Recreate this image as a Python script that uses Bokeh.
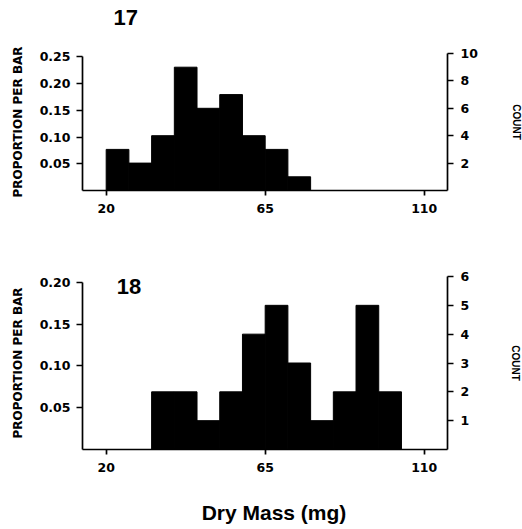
from bokeh.plotting import figure
from bokeh.models import Range1d, LinearAxis, FixedTicker, Label, NumeralTickFormatter
from bokeh.layouts import column
from bokeh.embed import file_html
from bokeh.resources import INLINE

# ---------------- data ----------------
top_edges = [20.0, 26.43, 32.86, 39.29, 45.71, 52.14, 58.57, 65.0, 71.43, 77.86]
top_counts = [3, 2, 4, 9, 6, 7, 4, 3, 1]
bot_edges = [32.86, 39.29, 45.71, 52.14, 58.57, 65.0, 71.43, 77.86, 84.29, 90.71, 97.14, 103.57]
bot_counts = [2, 2, 1, 2, 4, 5, 3, 1, 2, 5, 2]
x_ticks = [20, 65, 110]
top_prop_ticks = [0.05, 0.10, 0.15, 0.20, 0.25]
top_count_ticks = [2, 4, 6, 8, 10]
bot_prop_ticks = [0.05, 0.10, 0.15, 0.20]
bot_count_ticks = [1, 2, 3, 4, 5, 6]
top_count_max = 10
bot_count_max = 6
panel_labels = ["17", "18"]
x_label = "Dry Mass (mg)"
left_label = "PROPORTION PER BAR"
right_label = "COUNT"
x_lo, x_hi = 13.3, 116.6

TICK_FONT = "DejaVu Sans"
BIG_FONT = "Liberation Sans"
FRAME_L, FRAME_W, BORDER_R = 82, 365, 73


def style_axis(ax):
    ax.axis_line_color = "black"
    ax.axis_line_width = 1.7
    ax.major_tick_line_color = "black"
    ax.major_tick_line_width = 1.7
    ax.major_tick_in = 0
    ax.major_tick_out = 6
    ax.minor_tick_line_color = None
    ax.major_label_text_font = TICK_FONT
    ax.major_label_text_font_size = "12.5px"
    ax.major_label_text_font_style = "bold"
    ax.major_label_text_color = "black"
    ax.axis_label_text_color = "black"
    ax.axis_label_text_font_style = "bold"


def blank_strip(h):
    # strip aligned with the panels' frames; x in page pixels, y in pixels from its bottom
    s = figure(frame_width=FRAME_W, frame_height=h, output_backend="svg", toolbar_location=None,
               x_range=Range1d(FRAME_L, FRAME_L + FRAME_W), y_range=Range1d(0, h),
               x_axis_type=None, y_axis_type=None, min_border_left=FRAME_L,
               min_border_right=BORDER_R, min_border_top=0, min_border_bottom=0, title=None)
    s.outline_line_color = None
    s.xgrid.visible = False
    s.ygrid.visible = False
    return s


def make_panel(edges, counts, count_max, prop_ticks, count_ticks, fh, b_top, b_bottom, r_standoff):
    total = sum(counts)
    p = figure(frame_width=FRAME_W, frame_height=fh, output_backend="svg", toolbar_location=None,
               x_range=Range1d(x_lo, x_hi), y_range=Range1d(0, count_max / total),
               min_border_left=FRAME_L, min_border_right=BORDER_R, min_border_top=b_top,
               min_border_bottom=b_bottom, title=None)
    p.extra_y_ranges = {"count": Range1d(0, count_max)}
    p.outline_line_color = None
    p.xgrid.visible = False
    p.ygrid.visible = False
    p.background_fill_color = "white"
    p.border_fill_color = "white"

    props = [c / total for c in counts]
    p.quad(left=edges[:-1], right=edges[1:], bottom=0, top=props,
           fill_color="black", line_color="black", line_width=1)

    xa = p.xaxis[0]
    style_axis(xa)
    xa.ticker = FixedTicker(ticks=x_ticks)
    xa.major_label_standoff = 8
    xa.major_tick_out = 5

    ya = p.yaxis[0]
    style_axis(ya)
    ya.ticker = FixedTicker(ticks=prop_ticks)
    ya.formatter = NumeralTickFormatter(format="0.00")
    ya.bounds = (0, prop_ticks[-1])
    ya.major_label_standoff = 6
    ya.axis_label = left_label
    ya.axis_label_text_font = TICK_FONT
    ya.axis_label_text_font_size = "12px"
    ya.axis_label_standoff = 12

    ra = LinearAxis(y_range_name="count", ticker=FixedTicker(ticks=count_ticks))
    style_axis(ra)
    ra.major_label_standoff = 7
    ra.axis_label = right_label
    ra.axis_label_text_font = BIG_FONT
    ra.axis_label_text_font_size = "10px"
    ra.axis_label_standoff = r_standoff
    p.add_layout(ra, "right")
    return p, total


# strip above the first panel, carrying its number
p0 = blank_strip(43)
p0.add_layout(Label(x=113, y=26.5, text=panel_labels[0], text_font=BIG_FONT,
                    text_font_size="22px", text_font_style="bold", text_color="black",
                    text_baseline="alphabetic"))

p1, n1 = make_panel(top_edges, top_counts, top_count_max, top_prop_ticks, top_count_ticks,
                    137, 10, 50, 30)

p2, n2 = make_panel(bot_edges, bot_counts, bot_count_max, bot_prop_ticks, bot_count_ticks,
                    173, 36, 46, 38)
p2.add_layout(Label(x=23, y=0.195, text=panel_labels[1], text_font=BIG_FONT,
                    text_font_size="22px", text_font_style="bold", text_color="black",
                    text_baseline="alphabetic"))

# strip below the second panel, carrying the shared x-axis title
p3 = blank_strip(33)
p3.add_layout(Label(x=273.5, y=16, text=x_label, text_font=BIG_FONT,
                    text_font_size="21px", text_font_style="bold", text_color="black",
                    text_baseline="alphabetic", text_align="center"))

layout = column(p0, p1, p2, p3, spacing=0)
open("out.html", "w").write(file_html(layout, INLINE))
